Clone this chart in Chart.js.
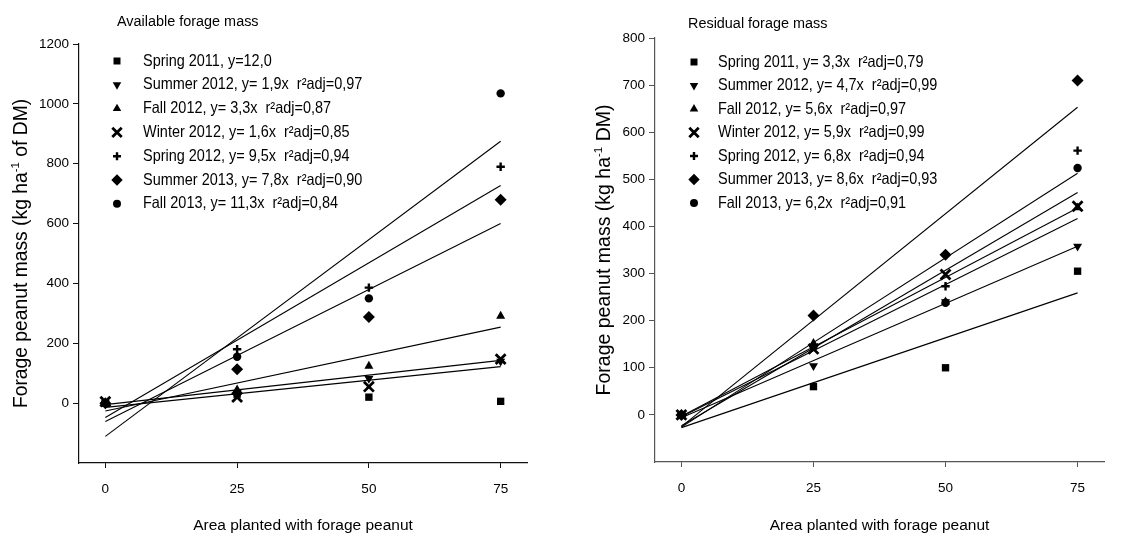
<!DOCTYPE html>
<html>
<head>
<meta charset="utf-8">
<script src="https://cdn.jsdelivr.net/npm/chart.js@4.4.1/dist/chart.umd.min.js"></script>
<style>
  html, body { margin: 0; padding: 0; background: #fff; }
  #wrap { position: relative; width: 1139px; height: 533px; overflow: hidden; }
  canvas { position: absolute; top: 0; }
  #cLeft { left: 0; }
  #cRight { left: 570px; }
</style>
</head>
<body>
<div id="wrap">
  <canvas id="cLeft" width="560" height="533"></canvas>
  <canvas id="cRight" width="569" height="533"></canvas>
</div>
<script>
// ---------- DATA ----------
const xLevels = [0, 25, 50, 75];          // area planted with forage peanut (%)
const xTickValues = [0, 25, 50, 75];
const fitX = [0, 75];                     // regression lines drawn from x=0 to x=75

// Available forage mass (left panel)
const availTitle = 'Available forage mass';
const availYTicks = [0, 200, 400, 600, 800, 1000, 1200];
const availLabels = [
  'Spring 2011, y=12,0',
  'Summer 2012, y= 1,9x  r\u00B2adj=0,97',
  'Fall 2012, y= 3,3x  r\u00B2adj=0,87',
  'Winter 2012, y= 1,6x  r\u00B2adj=0,85',
  'Spring 2012, y= 9,5x  r\u00B2adj=0,94',
  'Summer 2013, y= 7,8x  r\u00B2adj=0,90',
  'Fall 2013, y= 11,3x  r\u00B2adj=0,84'
];
const availSpring2011 = [0, 30, 20, 6];
const availSummer2012 = [0, 35, 82, 140];
const availFall2012   = [0, 45, 124, 291];
const availWinter2012 = [5, 20, 55, 147];
const availSpring2012 = [0, 180, 386, 790];
const availSummer2013 = [0, 113, 288, 680];
const availFall2013   = [0, 155, 350, 1035];
// fitted line values at x=0 and x=75 (null = no line drawn)
const availFitSpring2011 = null;
const availFitSummer2012 = [-5, 143];
const availFitFall2012   = [-26, 254];
const availFitWinter2012 = [-14, 122];
const availFitSpring2012 = [-48, 727];
const availFitSummer2013 = [-61, 600];
const availFitFall2013   = [-111, 875];

// Residual forage mass (right panel)
const resTitle = 'Residual forage mass';
const resYTicks = [0, 100, 200, 300, 400, 500, 600, 700, 800];
const resLabels = [
  'Spring 2011, y= 3,3x  r\u00B2adj=0,79',
  'Summer 2012, y= 4,7x  r\u00B2adj=0,99',
  'Fall 2012, y= 5,6x  r\u00B2adj=0,97',
  'Winter 2012, y= 5,9x  r\u00B2adj=0,99',
  'Spring 2012, y= 6,8x  r\u00B2adj=0,94',
  'Summer 2013, y= 8,6x  r\u00B2adj=0,93',
  'Fall 2013, y= 6,2x  r\u00B2adj=0,91'
];
const resSpring2011 = [0, 60, 100, 305];
const resSummer2012 = [0, 104, 240, 358];
const resFall2012   = [0, 152, 240, 440];
const resWinter2012 = [0, 140, 298, 443];
const resSpring2012 = [0, 148, 273, 561];
const resSummer2013 = [0, 211, 340, 710];
const resFall2013   = [0, 145, 238, 524];
const resFitSpring2011 = [-27, 259];
const resFitSummer2012 = [-6, 358];
const resFitFall2012   = [-4, 417];
const resFitWinter2012 = [-3, 439];
const resFitSpring2012 = [-26, 513];
const resFitSummer2013 = [-25, 653];
const resFitFall2013   = [-23, 472];

// ---------- STYLES ----------
const SANS = '"Liberation Sans", Arial, sans-serif';
const markers = [
  { pointStyle: 'rect',     radius: 5.2, rotation: 0,   borderWidth: 0 },   // square
  { pointStyle: 'triangle', radius: 5.2, rotation: 180, borderWidth: 0 },   // down triangle
  { pointStyle: 'triangle', radius: 5.2, rotation: 0,   borderWidth: 0 },   // up triangle
  { pointStyle: 'crossRot', radius: 7,   rotation: 0,   borderWidth: 2.8 }, // X
  { pointStyle: 'cross',    radius: 4.2, rotation: 0,   borderWidth: 2.4 }, // +
  { pointStyle: 'rectRot',  radius: 6,   rotation: 0,   borderWidth: 0 },   // diamond
  { pointStyle: 'circle',   radius: 4.2, rotation: 0,   borderWidth: 0 }    // circle
];

function pts(xs, ys) { return xs.map((x, i) => ({ x: x, y: ys[i] })); }

function buildDatasets(labels, series, fits) {
  const ds = [];
  fits.forEach(f => {
    if (!f) return;
    ds.push({
      data: pts(fitX, f), showLine: true, borderColor: '#000', borderWidth: 1.1,
      pointRadius: 0, pointHoverRadius: 0, fill: false, isFit: true, order: 2
    });
  });
  series.forEach((s, i) => {
    const m = markers[i];
    ds.push({
      label: labels[i], data: pts(xLevels, s), showLine: false,
      pointStyle: m.pointStyle, pointRadius: m.radius, pointHoverRadius: m.radius,
      pointRotation: m.rotation, pointBorderWidth: m.borderWidth,
      pointBackgroundColor: '#000', pointBorderColor: '#000',
      backgroundColor: '#000', borderColor: '#000', markerIndex: i, order: 1
    });
  });
  return ds;
}

// draw horizontally condensed text (narrow-font look)
function narrowText(ctx, text, x, y, font, sx) {
  ctx.save();
  ctx.translate(x, y);
  ctx.scale(sx, 1);
  ctx.font = font;
  ctx.fillText(text, 0, 0);
  ctx.restore();
}

const legendPlugin = {
  id: 'innerLegend',
  afterDraw(chart, args, o) {
    const ctx = chart.ctx;
    ctx.save();
    ctx.fillStyle = '#000';
    ctx.textBaseline = 'middle';
    ctx.textAlign = 'left';
    narrowText(ctx, o.title, o.titleX, o.titleY, o.titleFont, o.titleScale);
    const items = chart.data.datasets.filter(d => !d.isFit);
    items.forEach((d, i) => {
      const y = o.firstY + i * o.step;
      const m = markers[d.markerIndex];
      ctx.fillStyle = '#000';
      ctx.strokeStyle = '#000';
      ctx.lineWidth = m.borderWidth;
      Chart.helpers.drawPoint(ctx, {
        pointStyle: m.pointStyle, rotation: m.rotation,
        radius: m.radius * 0.95, borderWidth: m.borderWidth
      }, o.markerX, y);
      narrowText(ctx, d.label, o.textX, y, o.font, o.scale);
    });
    ctx.restore();
  }
};

const yTitlePlugin = {
  id: 'yTitle',
  afterDraw(chart, args, o) {
    const ctx = chart.ctx, ca = chart.chartArea;
    ctx.save();
    ctx.translate(o.x, (ca.top + ca.bottom) / 2);
    ctx.rotate(-Math.PI / 2);
    ctx.fillStyle = '#000';
    ctx.textBaseline = 'middle';
    ctx.textAlign = 'left';
    ctx.font = o.font;
    const w1 = ctx.measureText(o.pre).width;
    const w3 = ctx.measureText(o.post).width;
    ctx.font = o.supFont;
    const w2 = ctx.measureText(o.sup).width;
    let x = -(w1 + w2 + w3) / 2;
    ctx.font = o.font; ctx.fillText(o.pre, x, 0); x += w1;
    ctx.font = o.supFont; ctx.fillText(o.sup, x, -6); x += w2;
    ctx.font = o.font; ctx.fillText(o.post, x, 0);
    ctx.restore();
  }
};

function makeChart(canvasId, cfg) {
  return new Chart(document.getElementById(canvasId), {
    type: 'scatter',
    data: { datasets: buildDatasets(cfg.labels, cfg.series, cfg.fits) },
    plugins: [legendPlugin, yTitlePlugin],
    options: {
      responsive: false,
      animation: false,
      devicePixelRatio: 1,
      layout: { padding: { top: cfg.padTop, right: cfg.padRight, left: 0, bottom: 0 } },
      plugins: {
        legend: { display: false },
        tooltip: { enabled: false },
        innerLegend: cfg.legend,
        yTitle: cfg.yTitle
      },
      scales: {
        x: {
          type: 'linear', min: -5, max: 80,
          afterBuildTicks: s => { s.ticks = xTickValues.map(v => ({ value: v })); },
          afterFit: s => { s.height = cfg.xHeight; },
          grid: { drawOnChartArea: false, drawTicks: true, tickLength: 5, color: cfg.axisColor, lineWidth: 1 },
          border: { display: true, color: cfg.axisColor, width: 1.2 },
          ticks: { color: '#000', padding: 13, font: { family: SANS, size: 13.5 }, maxRotation: 0,
                   callback: v => String(v) },
          title: { display: true, text: 'Area planted with forage peanut', color: '#000',
                   font: { family: SANS, size: 15.5, lineHeight: 1 }, padding: { top: 0, bottom: 0 } }
        },
        y: {
          type: 'linear', min: cfg.yMin, max: cfg.yMax,
          afterBuildTicks: s => { s.ticks = cfg.yTicks.map(v => ({ value: v })); },
          afterFit: s => { s.width = cfg.yWidth; },
          grid: { drawOnChartArea: false, drawTicks: true, tickLength: 6, color: cfg.axisColor, lineWidth: 1 },
          border: { display: true, color: cfg.axisColor, width: 1.2 },
          ticks: { color: '#000', padding: 4, font: { family: SANS, size: 13.5 },
                   callback: v => String(v) }
        }
      }
    }
  });
}

makeChart('cLeft', {
  labels: availLabels,
  series: [availSpring2011, availSummer2012, availFall2012, availWinter2012, availSpring2012, availSummer2013, availFall2013],
  fits: [availFitSpring2011, availFitSummer2012, availFitFall2012, availFitWinter2012, availFitSpring2012, availFitSummer2013, availFitFall2013],
  yMin: -200, yMax: 1200, yTicks: availYTicks,
  yWidth: 79, xHeight: 70, padTop: 44, padRight: 33, axisColor: '#111',
  legend: { title: availTitle, titleX: 117, titleY: 22, titleFont: '15.5px ' + SANS, titleScale: 0.93,
            markerX: 117, textX: 143, firstY: 61, step: 23.8, font: '16.5px ' + SANS, scale: 0.876 },
  yTitle: { x: 22, font: '19.3px ' + SANS, supFont: '11.5px ' + SANS,
            pre: 'Forage peanut mass (kg ha', sup: '-1', post: ' of DM)' }
});

makeChart('cRight', {
  labels: resLabels,
  series: [resSpring2011, resSummer2012, resFall2012, resWinter2012, resSpring2012, resSummer2013, resFall2013],
  fits: [resFitSpring2011, resFitSummer2012, resFitFall2012, resFitWinter2012, resFitSpring2012, resFitSummer2013, resFitFall2013],
  yMin: -100, yMax: 800, yTicks: resYTicks,
  yWidth: 85, xHeight: 71, padTop: 38, padRight: 35, axisColor: '#555',
  legend: { title: resTitle, titleX: 118, titleY: 24, titleFont: '15.5px ' + SANS, titleScale: 0.93,
            markerX: 124, textX: 148, firstY: 62, step: 23.5, font: '16.5px ' + SANS, scale: 0.876 },
  yTitle: { x: 35, font: '19.5px ' + SANS, supFont: '11.5px ' + SANS,
            pre: 'Forage peanut mass (kg ha', sup: '-1', post: ' DM)' }
});
</script>
</body>
</html>
